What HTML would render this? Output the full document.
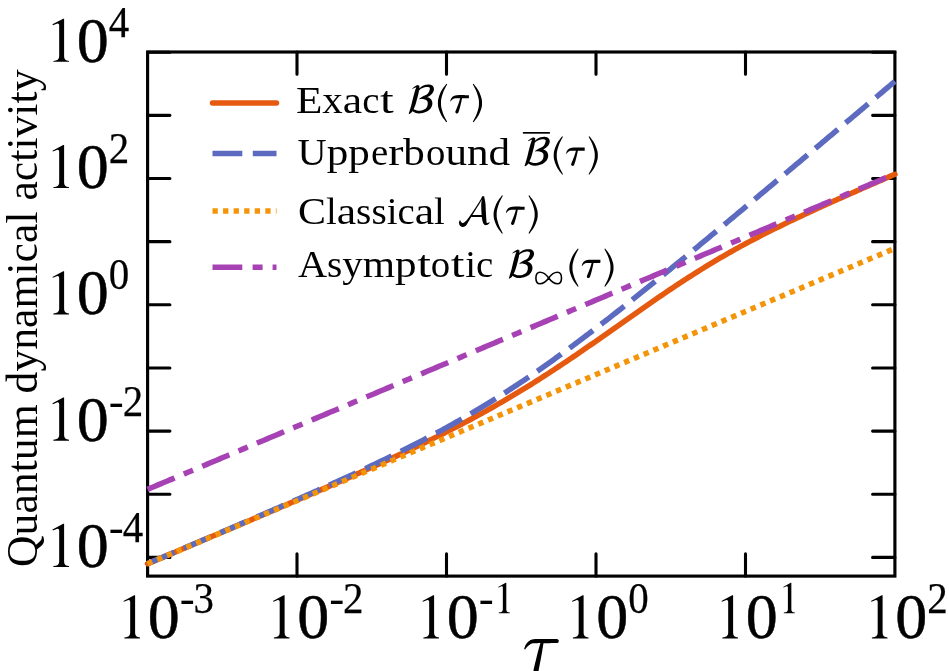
<!DOCTYPE html>
<html><head><meta charset="utf-8"><title>chart</title>
<style>html,body{margin:0;padding:0;background:#fff;overflow:hidden}svg{display:block}text{font-family:"Liberation Serif",serif;fill:#000}</style></head><body>
<svg width="949" height="671" viewBox="0 0 949 671">
<rect x="0" y="0" width="949" height="671" fill="#fff"/>
<g opacity="0.999">
<g stroke="#000" stroke-width="3.10" stroke-linecap="round" fill="none">
<path d="M297.00,576.10 v-22.30 M297.00,52.00 v22.30"/>
<path d="M446.50,576.10 v-22.30 M446.50,52.00 v22.30"/>
<path d="M596.00,576.10 v-22.30 M596.00,52.00 v22.30"/>
<path d="M745.50,576.10 v-22.30 M745.50,52.00 v22.30"/>
<path d="M147.60,52.20 h22.30 M894.90,52.20 h-22.30"/>
<path d="M147.60,115.35 h22.30 M894.90,115.35 h-22.30"/>
<path d="M147.60,178.50 h22.30 M894.90,178.50 h-22.30"/>
<path d="M147.60,241.65 h22.30 M894.90,241.65 h-22.30"/>
<path d="M147.60,304.80 h22.30 M894.90,304.80 h-22.30"/>
<path d="M147.60,367.95 h22.30 M894.90,367.95 h-22.30"/>
<path d="M147.60,431.10 h22.30 M894.90,431.10 h-22.30"/>
<path d="M147.60,494.25 h22.30 M894.90,494.25 h-22.30"/>
<path d="M147.60,557.40 h22.30 M894.90,557.40 h-22.30"/>
</g>
<rect x="147.60" y="52.00" width="747.30" height="524.10" fill="none" stroke="#000" stroke-width="3.15"/>
<g fill="none" stroke-width="5.50" stroke-linejoin="round">
<path d="M147.50,563.76 L149.99,562.71 L152.48,561.65 L154.97,560.60 L157.47,559.55 L159.96,558.49 L162.45,557.44 L164.94,556.39 L167.43,555.33 L169.92,554.28 L172.42,553.22 L174.91,552.17 L177.40,551.11 L179.89,550.06 L182.38,549.00 L184.88,547.95 L187.37,546.89 L189.86,545.84 L192.35,544.78 L194.84,543.73 L197.33,542.67 L199.83,541.61 L202.32,540.56 L204.81,539.50 L207.30,538.44 L209.79,537.39 L212.28,536.33 L214.78,535.27 L217.27,534.22 L219.76,533.16 L222.25,532.10 L224.74,531.04 L227.23,529.98 L229.72,528.92 L232.22,527.86 L234.71,526.81 L237.20,525.75 L239.69,524.69 L242.18,523.62 L244.67,522.56 L247.17,521.50 L249.66,520.44 L252.15,519.38 L254.64,518.32 L257.13,517.25 L259.62,516.19 L262.12,515.13 L264.61,514.06 L267.10,513.00 L269.59,511.93 L272.08,510.87 L274.58,509.80 L277.07,508.73 L279.56,507.66 L282.05,506.59 L284.54,505.53 L287.03,504.46 L289.53,503.38 L292.02,502.31 L294.51,501.24 L297.00,500.17 L299.49,499.09 L301.98,498.02 L304.48,496.94 L306.97,495.87 L309.46,494.79 L311.95,493.71 L314.44,492.63 L316.93,491.55 L319.42,490.46 L321.92,489.38 L324.41,488.30 L326.90,487.21 L329.39,486.12 L331.88,485.03 L334.38,483.94 L336.87,482.85 L339.36,481.75 L341.85,480.66 L344.34,479.56 L346.83,478.46 L349.33,477.36 L351.82,476.26 L354.31,475.15 L356.80,474.05 L359.29,472.94 L361.78,471.82 L364.27,470.71 L366.77,469.59 L369.26,468.47 L371.75,467.35 L374.24,466.23 L376.73,465.10 L379.23,463.97 L381.72,462.84 L384.21,461.70 L386.70,460.56 L389.19,459.42 L391.68,458.27 L394.17,457.12 L396.67,455.97 L399.16,454.81 L401.65,453.65 L404.14,452.48 L406.63,451.31 L409.12,450.14 L411.62,448.96 L414.11,447.78 L416.60,446.59 L419.09,445.40 L421.58,444.20 L424.07,443.00 L426.57,441.79 L429.06,440.57 L431.55,439.35 L434.04,438.13 L436.53,436.90 L439.02,435.66 L441.52,434.42 L444.01,433.17 L446.50,431.91 L448.99,430.65 L451.48,429.38 L453.97,428.10 L456.47,426.82 L458.96,425.52 L461.45,424.22 L463.94,422.92 L466.43,421.60 L468.93,420.28 L471.42,418.95 L473.91,417.61 L476.40,416.26 L478.89,414.91 L481.38,413.54 L483.88,412.17 L486.37,410.79 L488.86,409.40 L491.35,408.00 L493.84,406.59 L496.33,405.17 L498.82,403.74 L501.32,402.30 L503.81,400.86 L506.30,399.40 L508.79,397.93 L511.28,396.46 L513.78,394.97 L516.27,393.48 L518.76,391.98 L521.25,390.46 L523.74,388.94 L526.23,387.41 L528.72,385.86 L531.22,384.31 L533.71,382.75 L536.20,381.18 L538.69,379.60 L541.18,378.01 L543.67,376.42 L546.17,374.81 L548.66,373.20 L551.15,371.57 L553.64,369.94 L556.13,368.30 L558.62,366.65 L561.12,365.00 L563.61,363.33 L566.10,361.66 L568.59,359.99 L571.08,358.30 L573.58,356.61 L576.07,354.92 L578.56,353.21 L581.05,351.50 L583.54,349.79 L586.03,348.07 L588.53,346.35 L591.02,344.62 L593.51,342.89 L596.00,341.15 L598.49,339.41 L600.98,337.67 L603.47,335.92 L605.97,334.17 L608.46,332.42 L610.95,330.67 L613.44,328.92 L615.93,327.16 L618.42,325.41 L620.92,323.65 L623.41,321.90 L625.90,320.15 L628.39,318.39 L630.88,316.64 L633.38,314.89 L635.87,313.14 L638.36,311.40 L640.85,309.66 L643.34,307.92 L645.83,306.19 L648.33,304.46 L650.82,302.73 L653.31,301.01 L655.80,299.30 L658.29,297.59 L660.78,295.88 L663.27,294.19 L665.77,292.50 L668.26,290.82 L670.75,289.14 L673.24,287.48 L675.73,285.82 L678.23,284.17 L680.72,282.53 L683.21,280.90 L685.70,279.28 L688.19,277.67 L690.68,276.07 L693.17,274.48 L695.67,272.90 L698.16,271.33 L700.65,269.77 L703.14,268.23 L705.63,266.69 L708.12,265.17 L710.62,263.66 L713.11,262.16 L715.60,260.67 L718.09,259.20 L720.58,257.73 L723.08,256.28 L725.57,254.84 L728.06,253.42 L730.55,252.00 L733.04,250.60 L735.53,249.21 L738.02,247.83 L740.52,246.46 L743.01,245.10 L745.50,243.76 L747.99,242.42 L750.48,241.10 L752.98,239.78 L755.47,238.48 L757.96,237.19 L760.45,235.90 L762.94,234.63 L765.43,233.36 L767.93,232.11 L770.42,230.86 L772.91,229.62 L775.40,228.38 L777.89,227.16 L780.38,225.94 L782.88,224.73 L785.37,223.53 L787.86,222.33 L790.35,221.14 L792.84,219.95 L795.33,218.77 L797.82,217.60 L800.32,216.43 L802.81,215.26 L805.30,214.10 L807.79,212.94 L810.28,211.79 L812.77,210.64 L815.27,209.50 L817.76,208.36 L820.25,207.22 L822.74,206.09 L825.23,204.96 L827.73,203.84 L830.22,202.71 L832.71,201.59 L835.20,200.47 L837.69,199.36 L840.18,198.24 L842.68,197.13 L845.17,196.03 L847.66,194.92 L850.15,193.82 L852.64,192.72 L855.13,191.62 L857.62,190.52 L860.12,189.42 L862.61,188.33 L865.10,187.23 L867.59,186.14 L870.08,185.05 L872.57,183.97 L875.07,182.88 L877.56,181.79 L880.05,180.71 L882.54,179.63 L885.03,178.55 L887.52,177.47 L890.02,176.39 L892.51,175.31 L895.00,174.23" stroke="#e65a10" stroke-linecap="round"/>
<path d="M147.50,563.69 L149.99,562.63 L152.48,561.57 L154.97,560.52 L157.47,559.46 L159.96,558.40 L162.45,557.35 L164.94,556.29 L167.43,555.23 L169.92,554.17 L172.42,553.11 L174.91,552.06 L177.40,551.00 L179.89,549.94 L182.38,548.88 L184.88,547.82 L187.37,546.76 L189.86,545.70 L192.35,544.64 L194.84,543.58 L197.33,542.52 L199.83,541.45 L202.32,540.39 L204.81,539.33 L207.30,538.27 L209.79,537.20 L212.28,536.14 L214.78,535.07 L217.27,534.01 L219.76,532.94 L222.25,531.88 L224.74,530.81 L227.23,529.74 L229.72,528.68 L232.22,527.61 L234.71,526.54 L237.20,525.47 L239.69,524.40 L242.18,523.33 L244.67,522.26 L247.17,521.19 L249.66,520.11 L252.15,519.04 L254.64,517.96 L257.13,516.89 L259.62,515.81 L262.12,514.73 L264.61,513.65 L267.10,512.57 L269.59,511.49 L272.08,510.41 L274.58,509.33 L277.07,508.24 L279.56,507.16 L282.05,506.07 L284.54,504.98 L287.03,503.90 L289.53,502.80 L292.02,501.71 L294.51,500.62 L297.00,499.52 L299.49,498.43 L301.98,497.33 L304.48,496.23 L306.97,495.12 L309.46,494.02 L311.95,492.91 L314.44,491.81 L316.93,490.70 L319.42,489.58 L321.92,488.47 L324.41,487.35 L326.90,486.23 L329.39,485.11 L331.88,483.99 L334.38,482.86 L336.87,481.73 L339.36,480.60 L341.85,479.46 L344.34,478.32 L346.83,477.18 L349.33,476.04 L351.82,474.89 L354.31,473.74 L356.80,472.58 L359.29,471.42 L361.78,470.26 L364.27,469.09 L366.77,467.92 L369.26,466.75 L371.75,465.57 L374.24,464.39 L376.73,463.20 L379.23,462.01 L381.72,460.81 L384.21,459.61 L386.70,458.40 L389.19,457.19 L391.68,455.98 L394.17,454.75 L396.67,453.53 L399.16,452.29 L401.65,451.05 L404.14,449.81 L406.63,448.55 L409.12,447.30 L411.62,446.03 L414.11,444.76 L416.60,443.48 L419.09,442.20 L421.58,440.91 L424.07,439.61 L426.57,438.30 L429.06,436.99 L431.55,435.67 L434.04,434.34 L436.53,433.00 L439.02,431.66 L441.52,430.30 L444.01,428.94 L446.50,427.57 L448.99,426.19 L451.48,424.81 L453.97,423.41 L456.47,422.01 L458.96,420.59 L461.45,419.17 L463.94,417.74 L466.43,416.29 L468.93,414.84 L471.42,413.38 L473.91,411.91 L476.40,410.43 L478.89,408.94 L481.38,407.44 L483.88,405.93 L486.37,404.41 L488.86,402.88 L491.35,401.34 L493.84,399.79 L496.33,398.23 L498.82,396.66 L501.32,395.08 L503.81,393.49 L506.30,391.89 L508.79,390.28 L511.28,388.66 L513.78,387.03 L516.27,385.39 L518.76,383.74 L521.25,382.08 L523.74,380.41 L526.23,378.73 L528.72,377.04 L531.22,375.34 L533.71,373.64 L536.20,371.92 L538.69,370.19 L541.18,368.46 L543.67,366.71 L546.17,364.96 L548.66,363.19 L551.15,361.42 L553.64,359.64 L556.13,357.85 L558.62,356.05 L561.12,354.25 L563.61,352.43 L566.10,350.61 L568.59,348.78 L571.08,346.94 L573.58,345.10 L576.07,343.25 L578.56,341.39 L581.05,339.52 L583.54,337.65 L586.03,335.77 L588.53,333.88 L591.02,331.98 L593.51,330.08 L596.00,328.18 L598.49,326.27 L600.98,324.35 L603.47,322.42 L605.97,320.49 L608.46,318.56 L610.95,316.62 L613.44,314.67 L615.93,312.72 L618.42,310.76 L620.92,308.80 L623.41,306.84 L625.90,304.87 L628.39,302.90 L630.88,300.92 L633.38,298.93 L635.87,296.95 L638.36,294.96 L640.85,292.96 L643.34,290.96 L645.83,288.96 L648.33,286.96 L650.82,284.95 L653.31,282.94 L655.80,280.92 L658.29,278.90 L660.78,276.88 L663.27,274.86 L665.77,272.83 L668.26,270.80 L670.75,268.77 L673.24,266.74 L675.73,264.70 L678.23,262.66 L680.72,260.62 L683.21,258.58 L685.70,256.53 L688.19,254.48 L690.68,252.43 L693.17,250.38 L695.67,248.33 L698.16,246.27 L700.65,244.21 L703.14,242.16 L705.63,240.10 L708.12,238.03 L710.62,235.97 L713.11,233.91 L715.60,231.84 L718.09,229.77 L720.58,227.70 L723.08,225.63 L725.57,223.56 L728.06,221.49 L730.55,219.41 L733.04,217.34 L735.53,215.26 L738.02,213.19 L740.52,211.11 L743.01,209.03 L745.50,206.95 L747.99,204.87 L750.48,202.79 L752.98,200.71 L755.47,198.62 L757.96,196.54 L760.45,194.46 L762.94,192.37 L765.43,190.28 L767.93,188.20 L770.42,186.11 L772.91,184.02 L775.40,181.94 L777.89,179.85 L780.38,177.76 L782.88,175.67 L785.37,173.58 L787.86,171.49 L790.35,169.39 L792.84,167.30 L795.33,165.21 L797.82,163.12 L800.32,161.03 L802.81,158.93 L805.30,156.84 L807.79,154.74 L810.28,152.65 L812.77,150.55 L815.27,148.46 L817.76,146.36 L820.25,144.27 L822.74,142.17 L825.23,140.08 L827.73,137.98 L830.22,135.88 L832.71,133.79 L835.20,131.69 L837.69,129.59 L840.18,127.49 L842.68,125.40 L845.17,123.30 L847.66,121.20 L850.15,119.10 L852.64,117.00 L855.13,114.90 L857.62,112.80 L860.12,110.70 L862.61,108.61 L865.10,106.51 L867.59,104.41 L870.08,102.31 L872.57,100.21 L875.07,98.11 L877.56,96.01 L880.05,93.91 L882.54,91.81 L885.03,89.70 L887.52,87.60 L890.02,85.50 L892.51,83.40 L895.00,81.30" stroke="#5c6bc0" stroke-dasharray="29.4 10.2"/>
<path d="M147.50,563.81 L149.99,562.76 L152.48,561.71 L154.97,560.65 L157.47,559.60 L159.96,558.55 L162.45,557.50 L164.94,556.45 L167.43,555.40 L169.92,554.34 L172.42,553.29 L174.91,552.24 L177.40,551.19 L179.89,550.14 L182.38,549.09 L184.88,548.03 L187.37,546.98 L189.86,545.93 L192.35,544.88 L194.84,543.83 L197.33,542.78 L199.83,541.72 L202.32,540.67 L204.81,539.62 L207.30,538.57 L209.79,537.52 L212.28,536.47 L214.78,535.41 L217.27,534.36 L219.76,533.31 L222.25,532.26 L224.74,531.21 L227.23,530.16 L229.72,529.10 L232.22,528.05 L234.71,527.00 L237.20,525.95 L239.69,524.90 L242.18,523.85 L244.67,522.79 L247.17,521.74 L249.66,520.69 L252.15,519.64 L254.64,518.59 L257.13,517.54 L259.62,516.48 L262.12,515.43 L264.61,514.38 L267.10,513.33 L269.59,512.28 L272.08,511.23 L274.58,510.17 L277.07,509.12 L279.56,508.07 L282.05,507.02 L284.54,505.97 L287.03,504.92 L289.53,503.86 L292.02,502.81 L294.51,501.76 L297.00,500.71 L299.49,499.66 L301.98,498.61 L304.48,497.55 L306.97,496.50 L309.46,495.45 L311.95,494.40 L314.44,493.35 L316.93,492.30 L319.42,491.24 L321.92,490.19 L324.41,489.14 L326.90,488.09 L329.39,487.04 L331.88,485.99 L334.38,484.93 L336.87,483.88 L339.36,482.83 L341.85,481.78 L344.34,480.73 L346.83,479.68 L349.33,478.62 L351.82,477.57 L354.31,476.52 L356.80,475.47 L359.29,474.42 L361.78,473.37 L364.27,472.31 L366.77,471.26 L369.26,470.21 L371.75,469.16 L374.24,468.11 L376.73,467.06 L379.23,466.00 L381.72,464.95 L384.21,463.90 L386.70,462.85 L389.19,461.80 L391.68,460.75 L394.17,459.69 L396.67,458.64 L399.16,457.59 L401.65,456.54 L404.14,455.49 L406.63,454.44 L409.12,453.38 L411.62,452.33 L414.11,451.28 L416.60,450.23 L419.09,449.18 L421.58,448.13 L424.07,447.07 L426.57,446.02 L429.06,444.97 L431.55,443.92 L434.04,442.87 L436.53,441.82 L439.02,440.76 L441.52,439.71 L444.01,438.66 L446.50,437.61 L448.99,436.56 L451.48,435.51 L453.97,434.45 L456.47,433.40 L458.96,432.35 L461.45,431.30 L463.94,430.25 L466.43,429.20 L468.93,428.14 L471.42,427.09 L473.91,426.04 L476.40,424.99 L478.89,423.94 L481.38,422.89 L483.88,421.83 L486.37,420.78 L488.86,419.73 L491.35,418.68 L493.84,417.63 L496.33,416.58 L498.82,415.52 L501.32,414.47 L503.81,413.42 L506.30,412.37 L508.79,411.32 L511.28,410.27 L513.78,409.21 L516.27,408.16 L518.76,407.11 L521.25,406.06 L523.74,405.01 L526.23,403.96 L528.72,402.90 L531.22,401.85 L533.71,400.80 L536.20,399.75 L538.69,398.70 L541.18,397.65 L543.67,396.59 L546.17,395.54 L548.66,394.49 L551.15,393.44 L553.64,392.39 L556.13,391.34 L558.62,390.28 L561.12,389.23 L563.61,388.18 L566.10,387.13 L568.59,386.08 L571.08,385.03 L573.58,383.97 L576.07,382.92 L578.56,381.87 L581.05,380.82 L583.54,379.77 L586.03,378.72 L588.53,377.66 L591.02,376.61 L593.51,375.56 L596.00,374.51 L598.49,373.46 L600.98,372.41 L603.47,371.35 L605.97,370.30 L608.46,369.25 L610.95,368.20 L613.44,367.15 L615.93,366.10 L618.42,365.04 L620.92,363.99 L623.41,362.94 L625.90,361.89 L628.39,360.84 L630.88,359.79 L633.38,358.73 L635.87,357.68 L638.36,356.63 L640.85,355.58 L643.34,354.53 L645.83,353.48 L648.33,352.42 L650.82,351.37 L653.31,350.32 L655.80,349.27 L658.29,348.22 L660.78,347.17 L663.27,346.11 L665.77,345.06 L668.26,344.01 L670.75,342.96 L673.24,341.91 L675.73,340.86 L678.23,339.80 L680.72,338.75 L683.21,337.70 L685.70,336.65 L688.19,335.60 L690.68,334.55 L693.17,333.49 L695.67,332.44 L698.16,331.39 L700.65,330.34 L703.14,329.29 L705.63,328.24 L708.12,327.18 L710.62,326.13 L713.11,325.08 L715.60,324.03 L718.09,322.98 L720.58,321.93 L723.08,320.87 L725.57,319.82 L728.06,318.77 L730.55,317.72 L733.04,316.67 L735.53,315.62 L738.02,314.56 L740.52,313.51 L743.01,312.46 L745.50,311.41 L747.99,310.36 L750.48,309.31 L752.98,308.25 L755.47,307.20 L757.96,306.15 L760.45,305.10 L762.94,304.05 L765.43,303.00 L767.93,301.94 L770.42,300.89 L772.91,299.84 L775.40,298.79 L777.89,297.74 L780.38,296.69 L782.88,295.63 L785.37,294.58 L787.86,293.53 L790.35,292.48 L792.84,291.43 L795.33,290.38 L797.82,289.32 L800.32,288.27 L802.81,287.22 L805.30,286.17 L807.79,285.12 L810.28,284.07 L812.77,283.01 L815.27,281.96 L817.76,280.91 L820.25,279.86 L822.74,278.81 L825.23,277.76 L827.73,276.70 L830.22,275.65 L832.71,274.60 L835.20,273.55 L837.69,272.50 L840.18,271.45 L842.68,270.39 L845.17,269.34 L847.66,268.29 L850.15,267.24 L852.64,266.19 L855.13,265.14 L857.62,264.08 L860.12,263.03 L862.61,261.98 L865.10,260.93 L867.59,259.88 L870.08,258.83 L872.57,257.77 L875.07,256.72 L877.56,255.67 L880.05,254.62 L882.54,253.57 L885.03,252.52 L887.52,251.46 L890.02,250.41 L892.51,249.36 L895.00,248.31" stroke="#f39409" stroke-dasharray="5.4 5.16"/>
<path d="M147.50,489.36 L149.99,488.31 L152.48,487.26 L154.97,486.21 L157.47,485.16 L159.96,484.11 L162.45,483.05 L164.94,482.00 L167.43,480.95 L169.92,479.90 L172.42,478.85 L174.91,477.80 L177.40,476.74 L179.89,475.69 L182.38,474.64 L184.88,473.59 L187.37,472.54 L189.86,471.49 L192.35,470.43 L194.84,469.38 L197.33,468.33 L199.83,467.28 L202.32,466.23 L204.81,465.18 L207.30,464.12 L209.79,463.07 L212.28,462.02 L214.78,460.97 L217.27,459.92 L219.76,458.87 L222.25,457.81 L224.74,456.76 L227.23,455.71 L229.72,454.66 L232.22,453.61 L234.71,452.56 L237.20,451.50 L239.69,450.45 L242.18,449.40 L244.67,448.35 L247.17,447.30 L249.66,446.25 L252.15,445.19 L254.64,444.14 L257.13,443.09 L259.62,442.04 L262.12,440.99 L264.61,439.94 L267.10,438.88 L269.59,437.83 L272.08,436.78 L274.58,435.73 L277.07,434.68 L279.56,433.63 L282.05,432.57 L284.54,431.52 L287.03,430.47 L289.53,429.42 L292.02,428.37 L294.51,427.32 L297.00,426.26 L299.49,425.21 L301.98,424.16 L304.48,423.11 L306.97,422.06 L309.46,421.01 L311.95,419.95 L314.44,418.90 L316.93,417.85 L319.42,416.80 L321.92,415.75 L324.41,414.70 L326.90,413.64 L329.39,412.59 L331.88,411.54 L334.38,410.49 L336.87,409.44 L339.36,408.39 L341.85,407.33 L344.34,406.28 L346.83,405.23 L349.33,404.18 L351.82,403.13 L354.31,402.08 L356.80,401.02 L359.29,399.97 L361.78,398.92 L364.27,397.87 L366.77,396.82 L369.26,395.77 L371.75,394.71 L374.24,393.66 L376.73,392.61 L379.23,391.56 L381.72,390.51 L384.21,389.46 L386.70,388.40 L389.19,387.35 L391.68,386.30 L394.17,385.25 L396.67,384.20 L399.16,383.15 L401.65,382.09 L404.14,381.04 L406.63,379.99 L409.12,378.94 L411.62,377.89 L414.11,376.84 L416.60,375.78 L419.09,374.73 L421.58,373.68 L424.07,372.63 L426.57,371.58 L429.06,370.53 L431.55,369.47 L434.04,368.42 L436.53,367.37 L439.02,366.32 L441.52,365.27 L444.01,364.22 L446.50,363.16 L448.99,362.11 L451.48,361.06 L453.97,360.01 L456.47,358.96 L458.96,357.91 L461.45,356.85 L463.94,355.80 L466.43,354.75 L468.93,353.70 L471.42,352.65 L473.91,351.60 L476.40,350.54 L478.89,349.49 L481.38,348.44 L483.88,347.39 L486.37,346.34 L488.86,345.29 L491.35,344.23 L493.84,343.18 L496.33,342.13 L498.82,341.08 L501.32,340.03 L503.81,338.98 L506.30,337.92 L508.79,336.87 L511.28,335.82 L513.78,334.77 L516.27,333.72 L518.76,332.67 L521.25,331.61 L523.74,330.56 L526.23,329.51 L528.72,328.46 L531.22,327.41 L533.71,326.36 L536.20,325.30 L538.69,324.25 L541.18,323.20 L543.67,322.15 L546.17,321.10 L548.66,320.05 L551.15,318.99 L553.64,317.94 L556.13,316.89 L558.62,315.84 L561.12,314.79 L563.61,313.74 L566.10,312.68 L568.59,311.63 L571.08,310.58 L573.58,309.53 L576.07,308.48 L578.56,307.43 L581.05,306.37 L583.54,305.32 L586.03,304.27 L588.53,303.22 L591.02,302.17 L593.51,301.12 L596.00,300.06 L598.49,299.01 L600.98,297.96 L603.47,296.91 L605.97,295.86 L608.46,294.81 L610.95,293.75 L613.44,292.70 L615.93,291.65 L618.42,290.60 L620.92,289.55 L623.41,288.50 L625.90,287.44 L628.39,286.39 L630.88,285.34 L633.38,284.29 L635.87,283.24 L638.36,282.19 L640.85,281.13 L643.34,280.08 L645.83,279.03 L648.33,277.98 L650.82,276.93 L653.31,275.88 L655.80,274.82 L658.29,273.77 L660.78,272.72 L663.27,271.67 L665.77,270.62 L668.26,269.57 L670.75,268.51 L673.24,267.46 L675.73,266.41 L678.23,265.36 L680.72,264.31 L683.21,263.26 L685.70,262.20 L688.19,261.15 L690.68,260.10 L693.17,259.05 L695.67,258.00 L698.16,256.95 L700.65,255.89 L703.14,254.84 L705.63,253.79 L708.12,252.74 L710.62,251.69 L713.11,250.64 L715.60,249.58 L718.09,248.53 L720.58,247.48 L723.08,246.43 L725.57,245.38 L728.06,244.33 L730.55,243.27 L733.04,242.22 L735.53,241.17 L738.02,240.12 L740.52,239.07 L743.01,238.02 L745.50,236.96 L747.99,235.91 L750.48,234.86 L752.98,233.81 L755.47,232.76 L757.96,231.71 L760.45,230.65 L762.94,229.60 L765.43,228.55 L767.93,227.50 L770.42,226.45 L772.91,225.40 L775.40,224.34 L777.89,223.29 L780.38,222.24 L782.88,221.19 L785.37,220.14 L787.86,219.09 L790.35,218.03 L792.84,216.98 L795.33,215.93 L797.82,214.88 L800.32,213.83 L802.81,212.78 L805.30,211.72 L807.79,210.67 L810.28,209.62 L812.77,208.57 L815.27,207.52 L817.76,206.47 L820.25,205.41 L822.74,204.36 L825.23,203.31 L827.73,202.26 L830.22,201.21 L832.71,200.16 L835.20,199.10 L837.69,198.05 L840.18,197.00 L842.68,195.95 L845.17,194.90 L847.66,193.85 L850.15,192.79 L852.64,191.74 L855.13,190.69 L857.62,189.64 L860.12,188.59 L862.61,187.54 L865.10,186.48 L867.59,185.43 L870.08,184.38 L872.57,183.33 L875.07,182.28 L877.56,181.23 L880.05,180.17 L882.54,179.12 L885.03,178.07 L887.52,177.02 L890.02,175.97 L892.51,174.92 L895.00,173.86" stroke="#a742b4" stroke-dasharray="29.4 10 10 10"/>
</g>
<g fill="none" stroke-width="5.50">
<path d="M212.5,103 H276.5" stroke="#e65a10" stroke-linecap="round"/>
<path d="M212.5,153.6 H276.5" stroke="#5c6bc0" stroke-dasharray="29.8 10.5"/>
<path d="M212.5,211.0 H276.5" stroke="#f39409" stroke-dasharray="5.3 5.26"/>
<path d="M212.5,267.2 H276.5" stroke="#a742b4" stroke-dasharray="29.8 10.3 10 10"/>
</g>
<text transform="translate(295.90,112.70) scale(1.120,1)" font-size="38.6">E</text>
<text transform="translate(322.32,112.70) scale(1.061,1)" font-size="38.6">x</text>
<text transform="translate(342.81,112.70) scale(1.132,1)" font-size="38.6">a</text>
<text transform="translate(362.21,112.70) scale(1.005,1)" font-size="38.6">c</text>
<text transform="translate(380.12,112.70) scale(1.280,1)" font-size="38.6">t</text>
<text transform="translate(297.60,165.10) scale(1.044,1)" font-size="38.6">U</text>
<text transform="translate(326.70,165.10) scale(1.118,1)" font-size="38.6">p</text>
<text transform="translate(348.27,165.10) scale(1.118,1)" font-size="38.6">p</text>
<text transform="translate(370.92,165.10) scale(1.005,1)" font-size="38.6">e</text>
<text transform="translate(388.15,165.10) scale(1.183,1)" font-size="38.6">r</text>
<text transform="translate(403.36,165.10) scale(1.118,1)" font-size="38.6">b</text>
<text transform="translate(426.01,165.10) scale(1.005,1)" font-size="38.6">o</text>
<text transform="translate(445.41,165.10) scale(1.118,1)" font-size="38.6">u</text>
<text transform="translate(466.99,165.10) scale(1.118,1)" font-size="38.6">n</text>
<text transform="translate(488.56,165.10) scale(1.118,1)" font-size="38.6">d</text>
<text transform="translate(297.90,224.00) scale(1.088,1)" font-size="38.6">C</text>
<text transform="translate(325.91,224.00) scale(1.005,1)" font-size="38.6">l</text>
<text transform="translate(336.70,224.00) scale(1.132,1)" font-size="38.6">a</text>
<text transform="translate(356.10,224.00) scale(1.018,1)" font-size="38.6">s</text>
<text transform="translate(371.39,224.00) scale(1.018,1)" font-size="38.6">s</text>
<text transform="translate(386.67,224.00) scale(1.005,1)" font-size="38.6">i</text>
<text transform="translate(397.46,224.00) scale(1.005,1)" font-size="38.6">c</text>
<text transform="translate(414.69,224.00) scale(1.132,1)" font-size="38.6">a</text>
<text transform="translate(434.09,224.00) scale(1.005,1)" font-size="38.6">l</text>
<text transform="translate(297.90,277.30) scale(1.044,1)" font-size="38.6">A</text>
<text transform="translate(327.00,277.30) scale(1.018,1)" font-size="38.6">s</text>
<text transform="translate(342.29,277.30) scale(1.061,1)" font-size="38.6">y</text>
<text transform="translate(362.77,277.30) scale(1.076,1)" font-size="38.6">m</text>
<text transform="translate(395.09,277.30) scale(1.118,1)" font-size="38.6">p</text>
<text transform="translate(417.35,277.30) scale(1.280,1)" font-size="38.6">t</text>
<text transform="translate(430.68,277.30) scale(1.005,1)" font-size="38.6">o</text>
<text transform="translate(450.76,277.30) scale(1.280,1)" font-size="38.6">t</text>
<text transform="translate(465.17,277.30) scale(1.005,1)" font-size="38.6">i</text>
<text transform="translate(475.96,277.30) scale(1.005,1)" font-size="38.6">c</text>
<defs><path id="gB" d="M412.45,88.87 L412.64,88.78 L412.83,88.69 L413.02,88.60 L413.22,88.51 L413.41,88.43 L413.60,88.34 L413.79,88.25 L413.98,88.17 L414.17,88.08 L414.36,88.00 L414.55,87.92 L414.74,87.84 L414.93,87.76 L415.13,87.68 L415.33,87.61 L415.53,87.53 L415.74,87.46 L415.94,87.38 L416.14,87.31 L416.34,87.24 L416.53,87.16 L416.71,87.09 L416.89,87.02 L417.06,86.95 L417.21,86.88 L417.36,86.81 L417.50,86.75 L417.63,86.68 L417.76,86.61 L417.89,86.54 L418.03,86.47 L418.16,86.40 L418.29,86.33 L418.43,86.26 L418.56,86.19 L418.71,86.12 L418.27,84.98 L418.12,85.01 L417.98,85.05 L417.83,85.08 L417.69,85.11 L417.54,85.14 L417.39,85.17 L417.24,85.21 L417.08,85.25 L416.92,85.30 L416.75,85.36 L416.58,85.42 L416.41,85.50 L416.23,85.59 L416.05,85.68 L415.87,85.78 L415.69,85.89 L415.50,86.00 L415.31,86.12 L415.12,86.25 L414.94,86.37 L414.75,86.50 L414.57,86.62 L414.38,86.75 L414.20,86.88 L414.03,87.00 L413.85,87.13 L413.68,87.26 L413.51,87.39 L413.34,87.52 L413.18,87.66 L413.01,87.79 L412.85,87.92 L412.68,88.06 L412.52,88.19 L412.36,88.32 L412.19,88.45Z M417.07,85.16 L416.90,85.63 L416.72,86.10 L416.55,86.57 L416.37,87.03 L416.19,87.50 L416.02,87.96 L415.85,88.42 L415.67,88.89 L415.50,89.37 L415.33,89.85 L415.17,90.35 L415.00,90.85 L414.84,91.37 L414.68,91.90 L414.52,92.44 L414.37,92.98 L414.21,93.54 L414.06,94.10 L413.90,94.67 L413.75,95.24 L413.60,95.82 L413.45,96.40 L413.29,96.99 L413.14,97.58 L412.98,98.19 L412.83,98.81 L412.68,99.44 L412.53,100.08 L412.38,100.72 L412.23,101.35 L412.08,101.98 L411.93,102.60 L411.79,103.20 L411.65,103.78 L411.51,104.35 L411.37,104.88 L411.22,105.41 L411.08,105.93 L410.93,106.46 L410.78,106.97 L410.63,107.47 L410.48,107.96 L410.34,108.44 L410.20,108.90 L410.06,109.34 L409.93,109.76 L409.81,110.16 L409.70,110.52 L409.61,110.84 L409.53,111.13 L409.45,111.40 L409.38,111.64 L409.31,111.88 L409.23,112.12 L409.15,112.35 L409.07,112.59 L408.97,112.84 L408.88,113.09 L408.78,113.35 L408.68,113.63 L409.28,114.06 L409.50,113.90 L409.71,113.76 L409.93,113.63 L410.15,113.50 L410.38,113.37 L410.61,113.22 L410.85,113.05 L411.10,112.86 L411.35,112.63 L411.60,112.37 L411.85,112.07 L412.10,111.73 L412.35,111.37 L412.60,110.99 L412.84,110.58 L413.09,110.14 L413.34,109.69 L413.58,109.21 L413.82,108.72 L414.06,108.21 L414.30,107.68 L414.53,107.15 L414.75,106.61 L414.97,106.05 L415.18,105.48 L415.39,104.88 L415.59,104.27 L415.78,103.64 L415.97,103.01 L416.15,102.37 L416.33,101.73 L416.51,101.09 L416.68,100.46 L416.84,99.83 L417.00,99.23 L417.16,98.64 L417.32,98.05 L417.47,97.47 L417.63,96.88 L417.78,96.30 L417.93,95.72 L418.07,95.14 L418.21,94.57 L418.35,94.00 L418.47,93.44 L418.59,92.88 L418.70,92.33 L418.80,91.78 L418.89,91.25 L418.97,90.72 L419.04,90.20 L419.10,89.68 L419.15,89.18 L419.19,88.68 L419.24,88.18 L419.28,87.69 L419.32,87.20 L419.36,86.70 L419.40,86.21 L419.45,85.71Z M417.26,92.63 L417.52,92.34 L417.78,92.03 L418.03,91.72 L418.27,91.41 L418.52,91.11 L418.76,90.81 L419.01,90.51 L419.25,90.23 L419.51,89.97 L419.76,89.72 L420.02,89.49 L420.29,89.27 L420.58,89.07 L420.88,88.87 L421.19,88.68 L421.52,88.51 L421.84,88.34 L422.17,88.17 L422.51,88.02 L422.84,87.88 L423.18,87.75 L423.51,87.63 L423.84,87.53 L424.16,87.43 L424.48,87.34 L424.81,87.26 L425.14,87.18 L425.48,87.12 L425.82,87.06 L426.16,87.01 L426.50,86.98 L426.83,86.95 L427.14,86.94 L427.45,86.94 L427.73,86.96 L427.99,86.99 L428.24,87.04 L428.48,87.10 L428.71,87.18 L428.92,87.26 L429.12,87.36 L429.31,87.46 L429.47,87.57 L429.61,87.68 L429.72,87.78 L429.80,87.88 L429.86,87.97 L429.88,88.04 L429.88,88.10 L429.88,88.16 L429.88,88.23 L429.88,88.30 L429.87,88.38 L429.86,88.47 L429.85,88.57 L429.84,88.67 L429.82,88.78 L429.81,88.89 L429.79,89.02 L429.78,89.13 L429.76,89.26 L429.73,89.41 L429.70,89.60 L429.65,89.81 L429.59,90.03 L429.52,90.27 L429.44,90.52 L429.36,90.77 L429.27,91.02 L429.17,91.26 L429.07,91.49 L428.96,91.71 L428.85,91.93 L428.73,92.16 L428.61,92.38 L428.48,92.59 L428.35,92.81 L428.20,93.02 L428.05,93.23 L427.88,93.44 L427.70,93.65 L427.50,93.86 L427.28,94.06 L427.04,94.26 L426.79,94.45 L426.51,94.63 L426.19,94.81 L425.84,94.99 L425.48,95.16 L425.10,95.34 L424.71,95.51 L424.32,95.69 L423.93,95.86 L423.54,96.04 L423.17,96.23 L422.82,96.42 L422.49,96.60 L422.18,96.79 L421.88,96.98 L421.59,97.16 L421.29,97.35 L421.01,97.54 L420.72,97.73 L420.44,97.92 L420.15,98.11 L419.87,98.30 L419.58,98.49 L419.28,98.67 L419.51,99.24 L419.85,99.18 L420.19,99.12 L420.53,99.07 L420.86,99.02 L421.20,98.97 L421.54,98.91 L421.89,98.86 L422.23,98.79 L422.58,98.72 L422.94,98.64 L423.30,98.55 L423.67,98.45 L424.03,98.33 L424.41,98.21 L424.81,98.08 L425.22,97.94 L425.64,97.79 L426.06,97.63 L426.48,97.46 L426.90,97.29 L427.31,97.11 L427.72,96.92 L428.11,96.73 L428.49,96.53 L428.85,96.33 L429.19,96.13 L429.52,95.92 L429.84,95.72 L430.15,95.50 L430.45,95.28 L430.73,95.04 L431.01,94.80 L431.28,94.55 L431.53,94.30 L431.78,94.03 L432.01,93.75 L432.24,93.45 L432.46,93.14 L432.68,92.81 L432.88,92.48 L433.07,92.13 L433.25,91.78 L433.41,91.43 L433.55,91.06 L433.68,90.69 L433.78,90.32 L433.86,89.93 L433.91,89.54 L433.93,89.17 L433.91,88.80 L433.87,88.43 L433.80,88.07 L433.71,87.71 L433.58,87.36 L433.42,87.02 L433.24,86.69 L433.03,86.37 L432.79,86.08 L432.52,85.80 L432.22,85.54 L431.91,85.33 L431.58,85.14 L431.25,85.00 L430.92,84.87 L430.57,84.78 L430.23,84.70 L429.88,84.64 L429.53,84.60 L429.18,84.57 L428.82,84.55 L428.47,84.55 L428.11,84.55 L427.75,84.57 L427.38,84.59 L427.00,84.63 L426.61,84.67 L426.22,84.73 L425.82,84.79 L425.42,84.87 L425.01,84.96 L424.61,85.07 L424.22,85.19 L423.83,85.32 L423.45,85.47 L423.09,85.64 L422.72,85.82 L422.36,86.02 L422.01,86.22 L421.65,86.44 L421.30,86.67 L420.96,86.92 L420.63,87.17 L420.31,87.43 L419.99,87.70 L419.69,87.98 L419.40,88.27 L419.12,88.58 L418.86,88.90 L418.61,89.23 L418.38,89.56 L418.17,89.90 L417.96,90.25 L417.76,90.59 L417.56,90.93 L417.37,91.27 L417.17,91.61 L416.98,91.94 L416.77,92.27Z M421.99,98.79 L422.37,98.90 L422.78,99.00 L423.18,99.10 L423.58,99.20 L423.97,99.29 L424.35,99.39 L424.72,99.49 L425.06,99.59 L425.37,99.70 L425.65,99.81 L425.88,99.93 L426.08,100.05 L426.27,100.19 L426.46,100.33 L426.64,100.48 L426.80,100.64 L426.94,100.79 L427.07,100.95 L427.19,101.11 L427.29,101.26 L427.37,101.41 L427.45,101.56 L427.51,101.69 L427.56,101.82 L427.59,101.92 L427.61,102.03 L427.63,102.15 L427.65,102.28 L427.67,102.42 L427.69,102.58 L427.70,102.74 L427.71,102.91 L427.71,103.09 L427.72,103.27 L427.72,103.46 L427.71,103.64 L427.71,103.82 L427.70,104.01 L427.69,104.21 L427.67,104.42 L427.64,104.64 L427.61,104.86 L427.57,105.09 L427.52,105.31 L427.46,105.54 L427.40,105.75 L427.34,105.96 L427.26,106.17 L427.17,106.38 L427.07,106.60 L426.97,106.81 L426.87,107.02 L426.76,107.23 L426.64,107.43 L426.51,107.63 L426.36,107.82 L426.21,108.01 L426.04,108.20 L425.86,108.38 L425.65,108.55 L425.42,108.73 L425.16,108.91 L424.88,109.09 L424.57,109.26 L424.24,109.44 L423.90,109.60 L423.55,109.76 L423.20,109.91 L422.84,110.05 L422.49,110.18 L422.14,110.29 L421.80,110.38 L421.47,110.46 L421.12,110.53 L420.78,110.59 L420.42,110.64 L420.07,110.67 L419.72,110.69 L419.37,110.71 L419.02,110.71 L418.69,110.70 L418.36,110.69 L418.05,110.67 L417.76,110.64 L417.48,110.60 L417.20,110.55 L416.91,110.48 L416.62,110.40 L416.33,110.30 L416.03,110.20 L415.74,110.09 L415.46,109.98 L415.19,109.87 L414.92,109.77 L414.67,109.67 L414.45,109.58 L414.28,109.52 L414.15,109.48 L414.03,109.44 L413.93,109.40 L413.83,109.36 L413.72,109.31 L413.61,109.26 L413.49,109.19 L413.36,109.11 L413.21,109.01 L413.05,108.91 L412.89,108.83 L411.86,110.03 L411.94,110.15 L412.00,110.26 L412.06,110.37 L412.12,110.50 L412.19,110.63 L412.29,110.78 L412.40,110.94 L412.54,111.11 L412.71,111.28 L412.90,111.45 L413.12,111.61 L413.35,111.77 L413.59,111.90 L413.84,112.05 L414.12,112.19 L414.42,112.34 L414.74,112.49 L415.08,112.64 L415.43,112.78 L415.81,112.92 L416.19,113.04 L416.59,113.15 L417.00,113.24 L417.41,113.31 L417.81,113.35 L418.22,113.38 L418.63,113.40 L419.04,113.40 L419.46,113.39 L419.88,113.36 L420.31,113.33 L420.73,113.28 L421.16,113.22 L421.58,113.16 L422.00,113.08 L422.42,113.00 L422.84,112.91 L423.26,112.80 L423.69,112.69 L424.12,112.56 L424.56,112.42 L424.99,112.27 L425.41,112.12 L425.83,111.95 L426.24,111.78 L426.64,111.60 L427.02,111.41 L427.40,111.21 L427.75,111.00 L428.09,110.78 L428.42,110.55 L428.74,110.32 L429.04,110.07 L429.33,109.82 L429.60,109.55 L429.86,109.29 L430.11,109.01 L430.34,108.74 L430.56,108.45 L430.77,108.16 L430.97,107.85 L431.17,107.52 L431.36,107.18 L431.53,106.83 L431.69,106.48 L431.84,106.12 L431.97,105.76 L432.08,105.39 L432.18,105.02 L432.26,104.65 L432.32,104.27 L432.35,103.90 L432.37,103.53 L432.37,103.17 L432.35,102.80 L432.31,102.43 L432.25,102.06 L432.17,101.69 L432.06,101.31 L431.94,100.93 L431.78,100.56 L431.60,100.19 L431.39,99.84 L431.15,99.50 L430.90,99.19 L430.63,98.91 L430.35,98.65 L430.05,98.40 L429.73,98.17 L429.40,97.96 L429.06,97.77 L428.71,97.60 L428.35,97.44 L427.97,97.30 L427.59,97.18 L427.19,97.07 L426.77,96.98 L426.33,96.92 L425.90,96.89 L425.47,96.87 L425.04,96.87 L424.62,96.88 L424.20,96.90 L423.79,96.92 L423.39,96.94 L422.99,96.96 L422.61,96.97 L422.23,96.97Z"/><path id="gP" d="M446.34,83.83 L445.94,84.37 L445.54,84.90 L445.13,85.42 L444.71,85.95 L444.29,86.48 L443.88,87.02 L443.47,87.56 L443.06,88.10 L442.67,88.66 L442.29,89.22 L441.92,89.80 L441.58,90.39 L441.26,90.99 L440.95,91.60 L440.65,92.23 L440.36,92.86 L440.09,93.49 L439.83,94.13 L439.59,94.76 L439.36,95.37 L439.15,95.98 L438.96,96.56 L438.78,97.13 L438.61,97.67 L438.47,98.19 L438.34,98.69 L438.24,99.17 L438.15,99.63 L438.08,100.08 L438.02,100.52 L437.98,100.95 L437.94,101.37 L437.92,101.78 L437.91,102.20 L437.90,102.61 L437.90,103.04 L437.90,103.46 L437.91,103.87 L437.92,104.29 L437.94,104.70 L437.98,105.13 L438.02,105.55 L438.08,105.99 L438.15,106.44 L438.24,106.90 L438.34,107.38 L438.47,107.88 L438.61,108.40 L438.78,108.94 L438.96,109.51 L439.15,110.09 L439.36,110.70 L439.59,111.32 L439.83,111.94 L440.09,112.58 L440.36,113.21 L440.65,113.85 L440.95,114.47 L441.26,115.08 L441.58,115.68 L441.92,116.27 L442.29,116.85 L442.67,117.41 L443.06,117.97 L443.47,118.51 L443.88,119.05 L444.29,119.59 L444.71,120.12 L445.13,120.65 L445.54,121.18 L445.94,121.70 L446.34,122.24 L447.13,121.75 L446.82,121.15 L446.51,120.55 L446.19,119.95 L445.87,119.36 L445.55,118.77 L445.24,118.18 L444.94,117.59 L444.64,117.01 L444.35,116.43 L444.08,115.85 L443.83,115.28 L443.59,114.71 L443.36,114.13 L443.14,113.53 L442.92,112.92 L442.71,112.30 L442.50,111.69 L442.31,111.07 L442.13,110.46 L441.96,109.87 L441.80,109.28 L441.65,108.72 L441.52,108.19 L441.40,107.68 L441.31,107.22 L441.23,106.78 L441.16,106.38 L441.11,105.99 L441.06,105.62 L441.03,105.26 L441.01,104.90 L440.99,104.55 L440.98,104.19 L440.97,103.82 L440.97,103.43 L440.97,103.04 L440.97,102.64 L440.97,102.25 L440.98,101.88 L440.99,101.53 L441.01,101.17 L441.03,100.81 L441.06,100.45 L441.11,100.08 L441.16,99.70 L441.23,99.29 L441.31,98.85 L441.40,98.39 L441.52,97.88 L441.65,97.35 L441.80,96.79 L441.96,96.21 L442.13,95.61 L442.31,95.00 L442.50,94.38 L442.71,93.77 L442.92,93.15 L443.14,92.54 L443.36,91.94 L443.59,91.36 L443.83,90.79 L444.08,90.22 L444.35,89.64 L444.64,89.06 L444.94,88.48 L445.24,87.89 L445.55,87.30 L445.87,86.71 L446.19,86.12 L446.51,85.52 L446.82,84.92 L447.13,84.33Z M472.80,84.33 L473.11,84.92 L473.42,85.52 L473.74,86.12 L474.06,86.71 L474.38,87.30 L474.69,87.89 L475.00,88.48 L475.29,89.06 L475.58,89.64 L475.85,90.22 L476.11,90.79 L476.34,91.36 L476.57,91.94 L476.80,92.54 L477.01,93.15 L477.22,93.77 L477.43,94.38 L477.62,95.00 L477.80,95.61 L477.97,96.21 L478.13,96.79 L478.28,97.35 L478.41,97.88 L478.53,98.39 L478.62,98.85 L478.71,99.29 L478.77,99.70 L478.82,100.08 L478.87,100.45 L478.90,100.81 L478.92,101.17 L478.94,101.53 L478.95,101.88 L478.96,102.25 L478.96,102.64 L478.96,103.04 L478.96,103.43 L478.96,103.82 L478.95,104.19 L478.94,104.55 L478.92,104.90 L478.90,105.26 L478.87,105.62 L478.82,105.99 L478.77,106.38 L478.71,106.78 L478.62,107.22 L478.53,107.68 L478.41,108.19 L478.28,108.72 L478.13,109.28 L477.97,109.87 L477.80,110.46 L477.62,111.07 L477.43,111.69 L477.22,112.30 L477.01,112.92 L476.80,113.53 L476.57,114.13 L476.34,114.71 L476.11,115.28 L475.85,115.85 L475.58,116.43 L475.29,117.01 L475.00,117.59 L474.69,118.18 L474.38,118.77 L474.06,119.36 L473.74,119.95 L473.42,120.55 L473.11,121.15 L472.80,121.75 L473.59,122.24 L473.99,121.70 L474.39,121.18 L474.81,120.65 L475.22,120.12 L475.64,119.59 L476.05,119.05 L476.47,118.51 L476.87,117.97 L477.26,117.41 L477.64,116.85 L478.01,116.27 L478.35,115.68 L478.68,115.08 L478.99,114.47 L479.28,113.85 L479.57,113.21 L479.84,112.58 L480.10,111.94 L480.34,111.32 L480.57,110.70 L480.78,110.09 L480.98,109.51 L481.16,108.94 L481.32,108.40 L481.46,107.88 L481.59,107.38 L481.70,106.90 L481.78,106.44 L481.86,105.99 L481.91,105.55 L481.96,105.13 L481.99,104.70 L482.01,104.29 L482.02,103.87 L482.03,103.46 L482.03,103.04 L482.03,102.61 L482.02,102.20 L482.01,101.78 L481.99,101.37 L481.96,100.95 L481.91,100.52 L481.86,100.08 L481.78,99.63 L481.70,99.17 L481.59,98.69 L481.46,98.19 L481.32,97.67 L481.16,97.13 L480.98,96.56 L480.78,95.98 L480.57,95.37 L480.34,94.76 L480.10,94.13 L479.84,93.49 L479.57,92.86 L479.28,92.23 L478.99,91.60 L478.68,90.99 L478.35,90.39 L478.01,89.80 L477.64,89.22 L477.26,88.66 L476.87,88.10 L476.47,87.56 L476.05,87.02 L475.64,86.48 L475.22,85.95 L474.81,85.42 L474.39,84.90 L473.99,84.37 L473.59,83.83Z M450.67,101.44 L450.83,101.26 L450.99,101.06 L451.14,100.87 L451.29,100.68 L451.43,100.49 L451.58,100.30 L451.72,100.13 L451.87,99.97 L452.02,99.81 L452.17,99.68 L452.32,99.55 L452.48,99.44 L452.66,99.32 L452.85,99.19 L453.04,99.08 L453.23,98.97 L453.42,98.87 L453.61,98.78 L453.81,98.70 L454.00,98.62 L454.20,98.56 L454.40,98.51 L454.60,98.46 L454.80,98.42 L455.02,98.39 L455.24,98.37 L455.47,98.36 L455.72,98.35 L455.99,98.35 L456.28,98.35 L456.58,98.35 L456.90,98.36 L457.25,98.36 L457.61,98.37 L457.99,98.37 L458.38,98.37 L458.78,98.36 L459.21,98.36 L459.66,98.36 L460.13,98.36 L460.61,98.36 L461.11,98.36 L461.61,98.37 L462.11,98.37 L462.61,98.37 L463.10,98.37 L463.58,98.37 L464.04,98.37 L464.48,98.36 L464.90,98.36 L465.32,98.35 L465.73,98.34 L466.13,98.33 L466.53,98.32 L466.92,98.31 L467.32,98.30 L467.71,98.29 L468.11,98.28 L468.50,98.27 L468.91,98.26 L468.91,95.22 L468.50,95.21 L468.11,95.20 L467.71,95.19 L467.32,95.18 L466.92,95.17 L466.53,95.16 L466.13,95.15 L465.73,95.14 L465.32,95.13 L464.90,95.13 L464.48,95.12 L464.05,95.12 L463.60,95.11 L463.13,95.10 L462.65,95.09 L462.15,95.08 L461.65,95.07 L461.14,95.06 L460.63,95.06 L460.13,95.06 L459.63,95.06 L459.15,95.07 L458.69,95.09 L458.26,95.12 L457.86,95.15 L457.48,95.18 L457.11,95.21 L456.74,95.25 L456.38,95.30 L456.03,95.35 L455.68,95.41 L455.33,95.48 L454.98,95.57 L454.64,95.67 L454.30,95.78 L453.97,95.92 L453.65,96.07 L453.35,96.24 L453.07,96.42 L452.81,96.62 L452.57,96.82 L452.34,97.03 L452.13,97.24 L451.94,97.46 L451.76,97.68 L451.60,97.89 L451.44,98.11 L451.29,98.34 L451.13,98.58 L451.00,98.83 L450.88,99.08 L450.78,99.32 L450.70,99.57 L450.62,99.81 L450.56,100.05 L450.49,100.29 L450.43,100.52 L450.37,100.75 L450.30,100.97 L450.23,101.19Z M460.45,97.23 L460.31,97.70 L460.18,98.17 L460.04,98.63 L459.91,99.10 L459.77,99.57 L459.64,100.04 L459.50,100.50 L459.37,100.96 L459.23,101.41 L459.09,101.86 L458.95,102.30 L458.81,102.73 L458.66,103.16 L458.51,103.58 L458.36,104.01 L458.20,104.43 L458.04,104.85 L457.89,105.26 L457.73,105.67 L457.57,106.07 L457.41,106.46 L457.26,106.84 L457.11,107.22 L456.97,107.58 L456.83,107.93 L456.70,108.26 L456.57,108.59 L456.44,108.90 L456.31,109.21 L456.18,109.51 L456.06,109.81 L455.93,110.11 L455.80,110.42 L455.67,110.72 L455.54,111.04 L455.41,111.35 L455.31,111.96 L455.46,112.56 L455.81,113.06 L456.34,113.38 L456.95,113.48 L457.54,113.34 L458.04,112.98 L458.37,112.46 L458.47,112.14 L458.58,111.83 L458.69,111.52 L458.79,111.21 L458.90,110.90 L459.01,110.58 L459.12,110.26 L459.23,109.93 L459.34,109.59 L459.45,109.24 L459.56,108.88 L459.67,108.50 L459.78,108.12 L459.89,107.72 L460.00,107.31 L460.11,106.89 L460.22,106.47 L460.33,106.03 L460.44,105.59 L460.55,105.15 L460.66,104.70 L460.76,104.25 L460.87,103.80 L460.98,103.34 L461.08,102.88 L461.19,102.42 L461.29,101.95 L461.39,101.48 L461.50,101.00 L461.60,100.53 L461.70,100.05 L461.80,99.57 L461.90,99.10 L462.00,98.62 L462.10,98.15 L462.20,97.68Z"/><path id="gA" d="M482.31,196.36 L482.04,196.84 L481.78,197.32 L481.52,197.79 L481.26,198.25 L481.00,198.72 L480.75,199.19 L480.48,199.66 L480.22,200.14 L479.94,200.62 L479.65,201.12 L479.35,201.63 L479.03,202.16 L478.69,202.70 L478.33,203.27 L477.96,203.86 L477.58,204.45 L477.18,205.06 L476.78,205.68 L476.37,206.30 L475.96,206.91 L475.56,207.53 L475.16,208.13 L474.76,208.72 L474.38,209.30 L474.00,209.87 L473.62,210.44 L473.24,211.01 L472.86,211.57 L472.48,212.13 L472.11,212.68 L471.74,213.23 L471.37,213.76 L471.01,214.29 L470.66,214.79 L470.31,215.29 L469.98,215.76 L469.65,216.23 L469.33,216.68 L469.02,217.12 L468.72,217.54 L468.42,217.95 L468.14,218.35 L467.85,218.74 L467.57,219.11 L467.29,219.46 L467.02,219.80 L466.74,220.12 L466.46,220.43 L466.16,220.74 L465.87,221.03 L465.57,221.32 L465.28,221.59 L465.00,221.84 L464.72,222.06 L464.45,222.27 L464.20,222.45 L463.96,222.60 L463.76,222.71 L463.58,222.80 L463.44,222.85 L463.32,222.89 L463.22,222.91 L463.12,222.92 L463.03,222.92 L462.96,222.93 L462.88,222.92 L462.81,222.92 L462.75,222.92 L462.69,222.91 L462.64,222.91 L462.59,222.92 L462.57,222.94 L462.59,222.98 L462.59,223.02 L462.53,223.03 L462.44,223.02 L462.33,222.98 L462.20,222.91 L462.05,222.83 L461.91,222.73 L461.76,222.62 L461.62,222.50 L461.49,222.39 L461.38,222.30 L461.29,222.24 L461.20,222.17 L461.11,222.08 L461.03,221.96 L460.95,221.81 L460.87,221.65 L460.80,221.47 L460.73,221.28 L460.66,221.08 L460.59,220.87 L460.51,220.66 L460.43,220.47 L459.57,220.52 L459.51,220.70 L459.45,220.88 L459.37,221.07 L459.30,221.26 L459.22,221.46 L459.15,221.67 L459.08,221.89 L459.02,222.13 L458.98,222.39 L458.96,222.68 L458.97,222.98 L459.02,223.28 L459.07,223.55 L459.13,223.82 L459.20,224.09 L459.29,224.38 L459.40,224.66 L459.53,224.96 L459.69,225.25 L459.88,225.54 L460.11,225.83 L460.39,226.10 L460.73,226.36 L461.10,226.57 L461.45,226.72 L461.79,226.82 L462.14,226.89 L462.50,226.93 L462.87,226.94 L463.25,226.91 L463.63,226.85 L464.01,226.75 L464.39,226.62 L464.77,226.45 L465.13,226.24 L465.48,226.00 L465.81,225.72 L466.10,225.43 L466.37,225.11 L466.61,224.78 L466.85,224.44 L467.07,224.08 L467.29,223.72 L467.50,223.36 L467.71,222.98 L467.92,222.61 L468.14,222.24 L468.36,221.87 L468.60,221.48 L468.84,221.09 L469.07,220.68 L469.31,220.27 L469.55,219.86 L469.80,219.43 L470.05,219.00 L470.30,218.56 L470.56,218.11 L470.83,217.65 L471.11,217.18 L471.40,216.70 L471.70,216.20 L472.02,215.68 L472.34,215.16 L472.68,214.62 L473.02,214.06 L473.37,213.50 L473.72,212.94 L474.08,212.36 L474.44,211.78 L474.80,211.20 L475.16,210.62 L475.52,210.04 L475.89,209.45 L476.27,208.85 L476.66,208.24 L477.06,207.62 L477.45,207.00 L477.85,206.37 L478.25,205.75 L478.64,205.13 L479.01,204.52 L479.38,203.92 L479.73,203.33 L480.05,202.76 L480.36,202.21 L480.65,201.68 L480.92,201.16 L481.18,200.65 L481.43,200.15 L481.66,199.66 L481.90,199.18 L482.13,198.70 L482.35,198.22 L482.59,197.74 L482.82,197.25 L483.07,196.76Z M482.58,196.23 L482.47,196.80 L482.35,197.36 L482.23,197.92 L482.10,198.48 L481.97,199.04 L481.85,199.60 L481.73,200.17 L481.62,200.75 L481.52,201.33 L481.43,201.93 L481.36,202.53 L481.30,203.15 L481.26,203.78 L481.23,204.43 L481.21,205.08 L481.21,205.75 L481.21,206.42 L481.23,207.10 L481.25,207.78 L481.27,208.46 L481.30,209.13 L481.33,209.80 L481.36,210.45 L481.39,211.10 L481.42,211.73 L481.46,212.37 L481.49,213.01 L481.53,213.65 L481.57,214.29 L481.62,214.92 L481.67,215.55 L481.73,216.16 L481.79,216.76 L481.86,217.35 L481.93,217.91 L482.02,218.45 L482.10,218.96 L482.19,219.45 L482.27,219.95 L482.37,220.44 L482.47,220.92 L482.58,221.40 L482.70,221.86 L482.84,222.31 L482.99,222.74 L483.17,223.17 L483.39,223.58 L483.65,223.98 L483.98,224.36 L484.36,224.68 L484.78,224.92 L485.20,225.07 L485.60,225.14 L485.98,225.15 L486.32,225.12 L486.62,225.06 L486.89,224.97 L487.13,224.88 L487.35,224.79 L487.57,224.69 L487.83,224.58 L488.09,224.43 L488.32,224.27 L488.52,224.09 L488.71,223.91 L488.89,223.73 L489.06,223.54 L489.22,223.36 L489.37,223.18 L489.53,223.01 L489.68,222.84 L489.84,222.68 L489.57,222.24 L489.35,222.31 L489.12,222.40 L488.89,222.49 L488.66,222.58 L488.44,222.67 L488.23,222.75 L488.02,222.82 L487.83,222.87 L487.65,222.90 L487.49,222.90 L487.37,222.88 L487.25,222.85 L487.08,222.81 L486.89,222.77 L486.72,222.72 L486.57,222.66 L486.46,222.59 L486.38,222.51 L486.35,222.44 L486.37,222.37 L486.42,222.33 L486.48,222.30 L486.54,222.28 L486.58,222.25 L486.59,222.14 L486.57,221.97 L486.54,221.73 L486.51,221.45 L486.48,221.11 L486.45,220.74 L486.41,220.33 L486.38,219.89 L486.35,219.43 L486.32,218.94 L486.29,218.45 L486.25,217.94 L486.21,217.44 L486.17,216.92 L486.14,216.38 L486.10,215.81 L486.06,215.23 L486.03,214.63 L486.00,214.01 L485.96,213.39 L485.93,212.76 L485.89,212.13 L485.86,211.50 L485.82,210.87 L485.79,210.24 L485.76,209.60 L485.73,208.95 L485.71,208.29 L485.68,207.62 L485.66,206.96 L485.63,206.29 L485.60,205.63 L485.56,204.97 L485.51,204.33 L485.46,203.70 L485.39,203.08 L485.31,202.48 L485.23,201.90 L485.13,201.32 L485.03,200.75 L484.92,200.18 L484.80,199.62 L484.69,199.06 L484.57,198.50 L484.45,197.93 L484.33,197.37 L484.22,196.80 L484.11,196.23Z M471.54,216.97 L472.48,216.97 L473.42,216.97 L474.36,216.97 L475.30,216.97 L476.24,216.97 L477.18,216.97 L478.12,216.97 L479.06,216.97 L480.00,216.97 L480.94,216.97 L481.88,216.97 L482.82,216.97 L482.82,215.10 L481.88,215.10 L480.94,215.10 L480.00,215.10 L479.06,215.10 L478.12,215.10 L477.18,215.10 L476.24,215.10 L475.30,215.10 L474.36,215.10 L473.42,215.10 L472.48,215.10 L471.54,215.10Z"/></defs>
<g fill="#000">
<use href="#gB"/><use href="#gP"/>
<use href="#gB" x="115.8" y="52.3"/><use href="#gP" x="115.8" y="52.4"/>
<rect x="522.9" y="132.0" width="27" height="1.7"/>
<use href="#gA"/><use href="#gP" x="55.7" y="111.5"/>
<use href="#gB" x="100.1" y="164.6"/><use href="#gP" x="131.5" y="164.6"/>
</g>
<path d="M548.7,278 C545.5,273.5 542.5,272.2 540,272.2 C537,272.2 535.9,275 535.9,278 C535.9,281 537,283.8 540,283.8 C542.5,283.8 545.5,282.5 548.7,278 C551.9,273.5 554.9,272.2 557.4,272.2 C560.4,272.2 561.5,275 561.5,278 C561.5,281 560.4,283.8 557.4,283.8 C554.9,283.8 551.9,282.5 548.7,278 Z" fill="none" stroke="#000" stroke-width="1.6"/>
<defs><path id="one" d="M7.77,-37.44 L18.51,-43.17 L19.41,-43.17 L19.41,-5.37 Q19.41,-1.34 24.33,-0.9 L24.33,0 L8.66,0 L8.66,-0.9 Q14.48,-1.34 14.48,-5.37 L14.48,-36.72 Q14.48,-38.5 12.69,-38.33 L8.21,-36.54 Z"/></defs>
<use href="#one" x="44.7" y="61.8"/>
<text x="76.7" y="61.8" font-size="64" stroke="#000" stroke-width="0.50">0</text>
<text x="108.7" y="36.6" font-size="45.0" stroke="#000" stroke-width="0.25" textLength="20.48" lengthAdjust="spacingAndGlyphs">4</text>
<use href="#one" x="44.7" y="188.1"/>
<text x="76.7" y="188.1" font-size="64" stroke="#000" stroke-width="0.50">0</text>
<text x="108.7" y="162.9" font-size="45.0" stroke="#000" stroke-width="0.25" textLength="20.48" lengthAdjust="spacingAndGlyphs">2</text>
<use href="#one" x="44.7" y="314.4"/>
<text x="76.7" y="314.4" font-size="64" stroke="#000" stroke-width="0.50">0</text>
<text x="108.7" y="289.2" font-size="45.0" stroke="#000" stroke-width="0.25" textLength="20.48" lengthAdjust="spacingAndGlyphs">0</text>
<use href="#one" x="44.7" y="440.7"/>
<text x="76.7" y="440.7" font-size="64" stroke="#000" stroke-width="0.50">0</text>
<text x="108.7" y="415.5" font-size="45.0">-</text>
<text x="122.7" y="415.5" font-size="45.0" stroke="#000" stroke-width="0.25" textLength="20.48" lengthAdjust="spacingAndGlyphs">2</text>
<use href="#one" x="44.7" y="567.0"/>
<text x="76.7" y="567.0" font-size="64" stroke="#000" stroke-width="0.50">0</text>
<text x="108.7" y="541.8" font-size="45.0">-</text>
<text x="122.7" y="541.8" font-size="45.0" stroke="#000" stroke-width="0.25" textLength="20.48" lengthAdjust="spacingAndGlyphs">4</text>
<use href="#one" x="115.7" y="638.4"/>
<text x="147.7" y="638.4" font-size="64" stroke="#000" stroke-width="0.50">0</text>
<text x="179.7" y="613.2" font-size="45.0">-</text>
<text x="193.6" y="613.2" font-size="45.0" stroke="#000" stroke-width="0.25" textLength="20.48" lengthAdjust="spacingAndGlyphs">3</text>
<use href="#one" x="265.2" y="638.4"/>
<text x="297.2" y="638.4" font-size="64" stroke="#000" stroke-width="0.50">0</text>
<text x="329.2" y="613.2" font-size="45.0">-</text>
<text x="343.1" y="613.2" font-size="45.0" stroke="#000" stroke-width="0.25" textLength="20.48" lengthAdjust="spacingAndGlyphs">2</text>
<use href="#one" x="414.7" y="638.4"/>
<text x="446.7" y="638.4" font-size="64" stroke="#000" stroke-width="0.50">0</text>
<text x="478.7" y="613.2" font-size="45.0">-</text>
<use href="#one" transform="translate(492.65,613.20) scale(0.7031)"/>
<use href="#one" x="564.2" y="638.4"/>
<text x="596.2" y="638.4" font-size="64" stroke="#000" stroke-width="0.50">0</text>
<text x="628.2" y="613.2" font-size="45.0" stroke="#000" stroke-width="0.25" textLength="20.48" lengthAdjust="spacingAndGlyphs">0</text>
<use href="#one" x="713.7" y="638.4"/>
<text x="745.7" y="638.4" font-size="64" stroke="#000" stroke-width="0.50">0</text>
<use href="#one" transform="translate(777.70,613.20) scale(0.7031)"/>
<use href="#one" x="863.2" y="638.4"/>
<text x="895.2" y="638.4" font-size="64" stroke="#000" stroke-width="0.50">0</text>
<text x="927.2" y="613.2" font-size="45.0" stroke="#000" stroke-width="0.25" textLength="20.48" lengthAdjust="spacingAndGlyphs">2</text>
<text transform="translate(37.2,567) rotate(-90)" font-size="43.7" textLength="497.5" lengthAdjust="spacingAndGlyphs">Quantum dynamical activity</text>
<path fill="#000" d="M524.98,649.60 L525.25,649.27 L525.52,648.93 L525.78,648.59 L526.04,648.25 L526.30,647.91 L526.55,647.59 L526.81,647.27 L527.06,646.97 L527.32,646.69 L527.58,646.42 L527.84,646.17 L528.11,645.94 L528.41,645.69 L528.73,645.43 L529.05,645.18 L529.38,644.93 L529.71,644.70 L530.04,644.47 L530.37,644.26 L530.70,644.07 L531.03,643.90 L531.35,643.75 L531.66,643.62 L531.97,643.51 L532.27,643.43 L532.56,643.36 L532.83,643.31 L533.11,643.27 L533.40,643.24 L533.72,643.22 L534.08,643.21 L534.49,643.19 L534.94,643.18 L535.45,643.17 L536.02,643.16 L536.64,643.14 L537.30,643.13 L538.02,643.12 L538.81,643.11 L539.64,643.11 L540.51,643.11 L541.41,643.12 L542.33,643.12 L543.26,643.13 L544.19,643.14 L545.11,643.14 L546.01,643.15 L546.88,643.15 L547.72,643.14 L548.56,643.14 L549.40,643.13 L550.23,643.13 L551.06,643.12 L551.88,643.11 L552.71,643.11 L553.53,643.10 L554.36,643.09 L555.18,643.08 L556.01,643.08 L556.84,643.07 L557.60,642.92 L558.25,642.49 L558.68,641.84 L558.83,641.08 L558.68,640.32 L558.25,639.67 L557.60,639.24 L556.84,639.09 L556.01,639.08 L555.18,639.08 L554.36,639.07 L553.53,639.06 L552.71,639.05 L551.88,639.05 L551.06,639.04 L550.23,639.03 L549.40,639.03 L548.56,639.02 L547.72,639.02 L546.88,639.01 L546.03,639.01 L545.14,639.00 L544.23,638.99 L543.30,638.97 L542.37,638.96 L541.44,638.95 L540.53,638.94 L539.64,638.94 L538.78,638.95 L537.95,638.96 L537.18,638.98 L536.47,639.02 L535.84,639.05 L535.28,639.09 L534.75,639.12 L534.25,639.16 L533.77,639.21 L533.30,639.27 L532.83,639.35 L532.37,639.45 L531.91,639.57 L531.45,639.72 L530.99,639.91 L530.52,640.12 L530.05,640.37 L529.59,640.65 L529.16,640.96 L528.74,641.28 L528.35,641.62 L527.98,641.96 L527.62,642.32 L527.29,642.69 L526.97,643.06 L526.67,643.43 L526.39,643.81 L526.11,644.19 L525.85,644.59 L525.61,645.01 L525.40,645.43 L525.21,645.85 L525.05,646.27 L524.90,646.69 L524.76,647.10 L524.63,647.51 L524.50,647.91 L524.37,648.30 L524.23,648.69 L524.09,649.08Z M540.72,642.01 L540.52,642.70 L540.32,643.40 L540.11,644.09 L539.91,644.78 L539.70,645.47 L539.50,646.17 L539.29,646.86 L539.09,647.56 L538.89,648.26 L538.69,648.96 L538.49,649.67 L538.30,650.39 L538.11,651.11 L537.92,651.83 L537.73,652.56 L537.54,653.29 L537.36,654.03 L537.17,654.76 L536.99,655.50 L536.81,656.24 L536.63,656.98 L536.45,657.72 L536.27,658.45 L536.09,659.18 L535.91,659.93 L535.71,660.70 L535.52,661.50 L535.32,662.30 L535.12,663.10 L534.92,663.90 L534.73,664.68 L534.55,665.43 L534.38,666.15 L534.22,666.83 L534.07,667.46 L533.95,668.03 L533.84,668.53 L533.75,668.98 L533.68,669.38 L533.62,669.73 L533.57,670.05 L533.53,670.34 L533.50,670.60 L533.47,670.84 L533.44,671.07 L533.41,671.30 L533.38,671.55 L533.34,671.83 L538.30,672.59 L538.34,672.29 L538.39,672.00 L538.42,671.74 L538.46,671.50 L538.49,671.27 L538.53,671.04 L538.56,670.80 L538.60,670.53 L538.65,670.23 L538.71,669.89 L538.78,669.48 L538.87,669.01 L538.97,668.47 L539.08,667.86 L539.21,667.19 L539.35,666.47 L539.49,665.72 L539.64,664.93 L539.80,664.13 L539.95,663.32 L540.11,662.51 L540.27,661.70 L540.42,660.91 L540.56,660.15 L540.70,659.41 L540.84,658.66 L540.98,657.91 L541.12,657.17 L541.26,656.42 L541.39,655.67 L541.53,654.93 L541.66,654.19 L541.80,653.45 L541.93,652.71 L542.06,651.98 L542.19,651.25 L542.31,650.52 L542.43,649.80 L542.55,649.08 L542.67,648.37 L542.79,647.65 L542.91,646.94 L543.02,646.23 L543.14,645.52 L543.25,644.80 L543.37,644.09 L543.48,643.38 L543.60,642.66Z"/>
</g></svg></body></html>
